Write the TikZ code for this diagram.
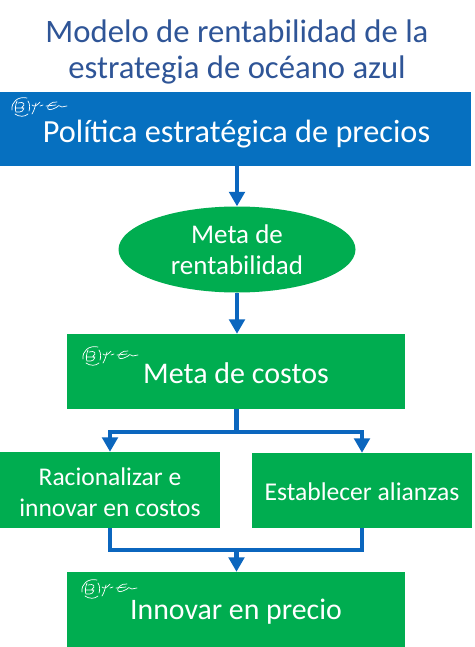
\documentclass[tikz,border=0pt]{standalone}
\usepackage{fontspec}
\setmainfont{Carlito}
\usetikzlibrary{shapes.geometric,arrows.meta,calc}
\definecolor{bluebox}{HTML}{0670C0}
\definecolor{greenbox}{HTML}{00AD50}
\definecolor{linkblue}{HTML}{0B66BE}
\definecolor{titleblue}{HTML}{2F5597}
\tikzset{
  pbox/.style={rectangle,fill=greenbox,inner sep=0pt},
  ptext/.style={text=white,inner sep=0pt,align=center},
  link/.style={draw=linkblue,line width=4.8pt},
  arrowlink/.style={link,-{Triangle[length=14.5pt,width=15.5pt]}},
  sig/.style={draw=white,line width=0.7pt,line cap=round,line join=round},
  pics/logo/.style={code={
    \draw[sig] (6,-9) .. controls (-3,-11) and (-10,-5) .. (-9,3);
    \draw[sig] (-6,7) .. controls (-2,10) and (4,10) .. (7,7);
    \draw[sig] (7,-6) .. controls (9,-3) and (9,1) .. (8,4);
    \draw[sig] (-4,-6) .. controls (-6,-1) and (-6,3) .. (-5,5) .. controls (0,6) and (5,3) .. (1,0) .. controls (5,-2) and (3,-6) .. (-3,-4) (-6,1) -- (3,1);
    \draw[sig] (15,-4) .. controls (14,0) and (13,4) .. (11,7);
    \draw[sig] (11,-2) .. controls (13,0) and (16,-1) .. (19,-5);
    \draw[sig] (19,-1) -- (22,-2);
    \draw[sig] (36,-5) .. controls (30,-6) and (25,0) .. (27,2) .. controls (29,4) and (34,1) .. (36,0) .. controls (38,-3) and (39,0) .. (41,0) .. controls (42,-2) and (44,1) .. (46,-1);
    \draw[sig] (25,-1) -- (35,-2);
  }}
}
\begin{document}
\begin{tikzpicture}[x=1pt,y=-1pt]
\useasboundingbox (0,0) rectangle (474,647);
\fill[white] (0,0) rectangle (474,647);
\node[text=titleblue,font=\fontsize{32.7}{36.5}\selectfont,align=center] (title) at (237,52) {Modelo de rentabilidad de la\\estrategia de océano azul};
\node[pbox,fill=bluebox,minimum width=471pt,minimum height=74pt] (policy) at (235.5,129) {};
\node[ptext,font=\fontsize{32.3}{40}\selectfont] (policytext) at (236.5,134) {Política estratégica de precios};
\node[ellipse,fill=greenbox,text=white,inner sep=0pt,minimum width=237pt,minimum height=86pt,align=center,font=\fontsize{27}{31}\selectfont] (goal) at (237,249.5) {Meta de\\rentabilidad};
\node[pbox,minimum width=338pt,minimum height=75pt] (cost) at (236,371.5) {};
\node[ptext,font=\fontsize{30}{38}\selectfont] (costtext) at (236,373) {Meta de costos};
\node[pbox,minimum width=220pt,minimum height=76pt] (rational) at (110,490) {};
\node[ptext,font=\fontsize{25.5}{31}\selectfont] (rationaltext) at (110,492) {Racionalizar e\\innovar en costos};
\node[pbox,minimum width=220pt,minimum height=75pt] (alliance) at (362,490.5) {};
\node[ptext,font=\fontsize{25.6}{33}\selectfont] (alliancetext) at (362,492) {Establecer alianzas};
\node[pbox,minimum width=338pt,minimum height=75pt] (price) at (236,609.5) {};
\node[ptext,font=\fontsize{29.8}{38}\selectfont] (pricetext) at (236,612) {Innovar en precio};
\coordinate (splitc) at (236.5,432);
\coordinate (joinc) at (236.5,550);
\draw[arrowlink] (policy.south -| goal.north) -- (goal.north);
\draw[arrowlink] (goal.south) -- (goal.south |- cost.north);
\draw[link] (cost.south -| splitc) -- (splitc);
\draw[arrowlink] (splitc) -| (rational.north);
\draw[arrowlink] (splitc) -| (alliance.north);
\draw[link] (rational.south) |- (joinc);
\draw[link] (alliance.south) |- (joinc);
\draw[arrowlink] (joinc) -- (joinc |- price.north);
\pic at (21,107) {logo};
\pic at (92,356) {logo};
\pic at (91,589) {logo};
\end{tikzpicture}
\end{document}
